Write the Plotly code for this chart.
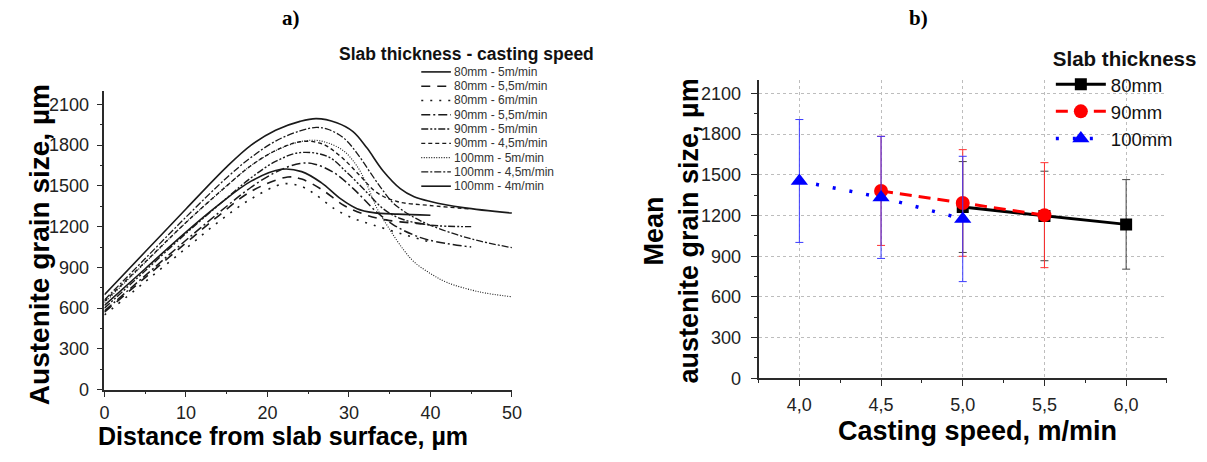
import plotly.graph_objects as go

# ---------------- Panel a) data (read from picture) ----------------
x_80_5 = [0, 5, 10, 14, 18, 21.7, 24.2, 26.6, 29, 31, 33, 36, 40]
y_80_5 = [620, 890, 1160, 1360, 1535, 1622, 1605, 1524, 1404, 1332, 1303, 1292, 1284]

x_80_55 = [0, 5, 10, 14, 18, 22.5, 24.2, 26.6, 29.4, 32.2, 34.7, 38.3, 40]
y_80_55 = [570, 825, 1080, 1280, 1460, 1565, 1550, 1476, 1356, 1284, 1248, 1224, 1215]

x_80_6 = [0, 5, 10, 14, 18, 22, 24.2, 25.8, 28.2, 30.6, 33, 36.3, 40]
y_80_6 = [550, 795, 1040, 1235, 1405, 1515, 1495, 1440, 1332, 1260, 1212, 1150, 1085]

x_90_55 = [0, 5, 10, 15, 18, 21, 24, 25.8, 28.2, 30.6, 33.4, 35.5, 37.9, 39.9, 45]
y_90_55 = [580, 840, 1100, 1350, 1490, 1600, 1665, 1660, 1596, 1476, 1308, 1212, 1140, 1100, 1050]

x_90_5 = [0, 5, 10, 15, 18, 21, 24, 27.4, 29.8, 32.2, 34.2, 36.3, 39.9, 45]
y_90_5 = [600, 875, 1150, 1410, 1560, 1680, 1745, 1716, 1596, 1452, 1332, 1260, 1212, 1200]

x_90_45 = [0, 5, 10, 15, 18, 21, 24, 26.6, 29, 31.4, 33.4, 35.9, 39.9, 45]
y_90_45 = [650, 940, 1230, 1500, 1650, 1760, 1825, 1812, 1716, 1572, 1452, 1385, 1356, 1330]

x_100_5 = [0, 5, 10, 15, 18, 21, 24, 25.8, 27.5, 29.4, 31, 32.2, 33.4, 35.1, 36.7, 38, 40, 42, 46, 50]
y_100_5 = [640, 935, 1230, 1500, 1650, 1760, 1825, 1836, 1815, 1755, 1645, 1510, 1340, 1170, 1030, 940, 855, 790, 720, 684]

x_100_45 = [0, 5, 10, 15, 18, 21, 24, 26, 27.5, 29.4, 31, 32.6, 34, 35.5, 37.5, 40, 45, 50]
y_100_45 = [660, 965, 1270, 1560, 1710, 1830, 1905, 1930, 1915, 1850, 1740, 1600, 1480, 1370, 1285, 1210, 1110, 1045]

x_100_4 = [0, 5, 10, 15, 18, 21, 24, 26, 28.5, 30.5, 32.2, 34.2, 36.3, 38, 40, 44, 50]
y_100_4 = [700, 1015, 1330, 1640, 1800, 1910, 1975, 1995, 1965, 1900, 1780, 1610, 1480, 1420, 1385, 1340, 1300]

labels_a = ["80mm - 5m/min", "80mm - 5,5m/min", "80mm - 6m/min",
            "90mm - 5,5m/min", "90mm - 5m/min", "90mm - 4,5m/min",
            "100mm - 5m/min", "100mm - 4,5m/min", "100mm - 4m/min"]

# ---------------- Panel b) data ----------------
speed_80 = [5.0, 5.5, 6.0]
mean_80 = [1263, 1197, 1135]
err_80 = [335, 330, 330]

speed_90 = [4.5, 5.0, 5.5]
mean_90 = [1382, 1293, 1203]
err_90 = [402, 393, 387]

speed_100 = [4.0, 4.5, 5.0]
mean_100 = [1455, 1334, 1175]
err_100 = [453, 450, 462]

speed_ticks = [4.0, 4.5, 5.0, 5.5, 6.0]
speed_tick_text = ["4,0", "4,5", "5,0", "5,5", "6,0"]

# ---------------- helpers ----------------
W, H = 1207, 462
def PX(x):
    return x / W
def PY(y):
    return 1 - y / H

FONT = "Liberation Sans, Arial, sans-serif"
AX = "#2a2a2a"

series_a = [
    (x_80_5, y_80_5, "solid", 1.6),
    (x_80_55, y_80_55, "9px,7px", 1.6),
    (x_80_6, y_80_6, "2px,7px", 1.6),
    (x_90_55, y_90_55, "9px,3px,2px,3px", 1.5),
    (x_90_5, y_90_5, "7px,2px,2px,2px,2px,2px", 1.4),
    (x_90_45, y_90_45, "4px,3px", 1.4),
    (x_100_5, y_100_5, "1px,1.5px", 1.1),
    (x_100_45, y_100_45, "7px,2px,2px,2px", 1.3),
    (x_100_4, y_100_4, "solid", 1.6),
]

fig = go.Figure()

for (xs, ys, dash, w), name in zip(series_a, labels_a):
    fig.add_trace(go.Scatter(
        x=xs, y=ys, mode="lines", name=name, showlegend=False,
        line=dict(color="#1a1a1a", width=w, dash=dash, shape="spline", smoothing=1.0),
        xaxis="x", yaxis="y"))

# panel b
fig.add_trace(go.Scatter(
    x=speed_80, y=mean_80, name="80mm", mode="lines+markers",
    line=dict(color="#000000", width=3),
    marker=dict(symbol="square", size=12, color="#000000"),
    error_y=dict(type="data", array=err_80, color="#444444", thickness=1, width=4),
    xaxis="x2", yaxis="y2", legend="legend"))
fig.add_trace(go.Scatter(
    x=speed_90, y=mean_90, name="90mm", mode="lines+markers",
    line=dict(color="#ff0000", width=3, dash="12px,7px"),
    marker=dict(symbol="circle", size=14, color="#ff0000"),
    error_y=dict(type="data", array=err_90, color="#ff3030", thickness=1, width=4),
    xaxis="x2", yaxis="y2", legend="legend"))
fig.add_trace(go.Scatter(
    x=speed_100, y=mean_100, name="100mm", mode="lines+markers",
    line=dict(color="#0000ff", width=3.5, dash="3px,14px"),
    marker=dict(symbol="triangle-up", size=15, color="#0000ff"),
    error_y=dict(type="data", array=err_100, color="#3a3aff", thickness=1, width=4),
    xaxis="x2", yaxis="y2", legend="legend"))

tickfont = dict(family=FONT, size=18, color="#222")

fig.update_layout(
    width=W, height=H,
    margin=dict(l=0, r=0, t=0, b=0),
    paper_bgcolor="white", plot_bgcolor="white",
    xaxis=dict(domain=[PX(100.7), PX(513.3)], range=[0, 50], anchor="y",
               tickmode="linear", tick0=0, dtick=10, ticks="outside", ticklen=6,
               tickwidth=1.3, tickcolor=AX, showline=True, linecolor=AX, linewidth=1.6,
               showgrid=False, zeroline=False, tickfont=tickfont,
               minor=dict(dtick=5, ticks="outside", ticklen=3, tickcolor=AX, showgrid=False)),
    yaxis=dict(domain=[PY(398.3), PY(92.8)], range=[0, 2200], anchor="x",
               tickmode="linear", tick0=0, dtick=300, ticks="outside", ticklen=6,
               tickwidth=1.3, tickcolor=AX, showline=True, linecolor=AX, linewidth=1.6,
               showgrid=False, zeroline=False, tickfont=tickfont, ticklabelstandoff=4,
               minor=dict(dtick=150, ticks="outside", ticklen=3, tickcolor=AX, showgrid=False)),
    xaxis2=dict(domain=[PX(763), PX(1176.6)], range=[3.75, 6.25], anchor="y2",
                tickmode="array", tickvals=speed_ticks, ticktext=speed_tick_text,
                ticks="outside", ticklen=6, tickwidth=1.3, tickcolor=AX,
                showline=True, linecolor=AX, linewidth=1.6, zeroline=False,
                showgrid=True, gridcolor="#bdbdbd", griddash="dot", gridwidth=1,
                tickfont=tickfont, ticklabelstandoff=3,
                minor=dict(tickvals=[3.75, 4.25, 4.75, 5.25, 5.75, 6.25], ticks="outside",
                           ticklen=3, tickcolor=AX, showgrid=False)),
    yaxis2=dict(domain=[PY(386.7), PY(81.7)], range=[0, 2200], anchor="x2",
                tickmode="linear", tick0=0, dtick=300, ticks="outside", ticklen=6,
                tickwidth=1.3, tickcolor=AX, showline=True, linecolor=AX, linewidth=1.6,
                zeroline=False, showgrid=True, gridcolor="#bdbdbd", griddash="dot",
                gridwidth=1, tickfont=tickfont, ticklabelstandoff=6,
                minor=dict(dtick=150, ticks="outside", ticklen=3, tickcolor=AX, showgrid=False)),
    legend=dict(x=PX(1059), y=PY(40), xanchor="left", yanchor="top",
                bgcolor="rgba(0,0,0,0)", borderwidth=0, itemwidth=50,
                font=dict(family=FONT, size=18.5, color="#111"),
                title=dict(text="<b>Slab thickness</b>", side="top",
                           font=dict(family=FONT, size=20.5, color="#111"))),
    showlegend=True,
)

annotations = []
shapes = []

# Panel a legend (manual keys)
annotations.append(dict(text="<b>Slab thickness - casting speed</b>", x=PX(467), y=PY(55),
                        xref="paper", yref="paper", showarrow=False, xanchor="center",
                        yanchor="middle", font=dict(family=FONT, size=17.5, color="#111")))
row_y0, row_dy = 73.5, 14.6
for i, ((xs, ys, dash, w), name) in enumerate(zip(series_a, labels_a)):
    yy = row_y0 + i * row_dy
    shapes.append(dict(type="line", xref="paper", yref="paper",
                       x0=PX(421.5), x1=PX(451.5), y0=PY(yy), y1=PY(yy),
                       line=dict(color="#1a1a1a", width=w, dash=dash)))
    annotations.append(dict(text=name, x=PX(453), y=PY(yy), xref="paper", yref="paper",
                            showarrow=False, xanchor="left", yanchor="middle",
                            font=dict(family=FONT, size=12, color="#333")))

# Axis titles
annotations.append(dict(text="<b>Austenite grain size, µm</b>", x=PX(35), y=PY(250),
                        xref="paper", yref="paper", showarrow=False, textangle=-90,
                        xanchor="center", yanchor="middle",
                        font=dict(family=FONT, size=28, color="#000")))
annotations.append(dict(text="<b>Distance from slab surface, µm</b>", x=PX(281), y=PY(446),
                        xref="paper", yref="paper", showarrow=False,
                        xanchor="center", yanchor="middle",
                        font=dict(family=FONT, size=25, color="#000")))
annotations.append(dict(text="<b>Mean<br>austenite grain size, µm</b>", x=PX(675), y=PY(236),
                        xref="paper", yref="paper", showarrow=False, textangle=-90,
                        xanchor="center", yanchor="middle",
                        font=dict(family=FONT, size=27, color="#000")))
annotations.append(dict(text="<b>Casting speed, m/min</b>", x=PX(985), y=PY(441),
                        xref="paper", yref="paper", showarrow=False,
                        xanchor="center", yanchor="middle",
                        font=dict(family=FONT, size=27, color="#000")))

# Panel labels
label_font = dict(family="Liberation Serif, Times New Roman, serif", size=21, color="#000")
annotations.append(dict(text="<b>a)</b>", x=PX(290), y=PY(18), xref="paper", yref="paper",
                        showarrow=False, xanchor="center", yanchor="middle", font=label_font))
annotations.append(dict(text="<b>b)</b>", x=PX(925), y=PY(18), xref="paper", yref="paper",
                        showarrow=False, xanchor="center", yanchor="middle", font=label_font))

fig.update_layout(annotations=annotations, shapes=shapes)

fig.write_html("out.html")
